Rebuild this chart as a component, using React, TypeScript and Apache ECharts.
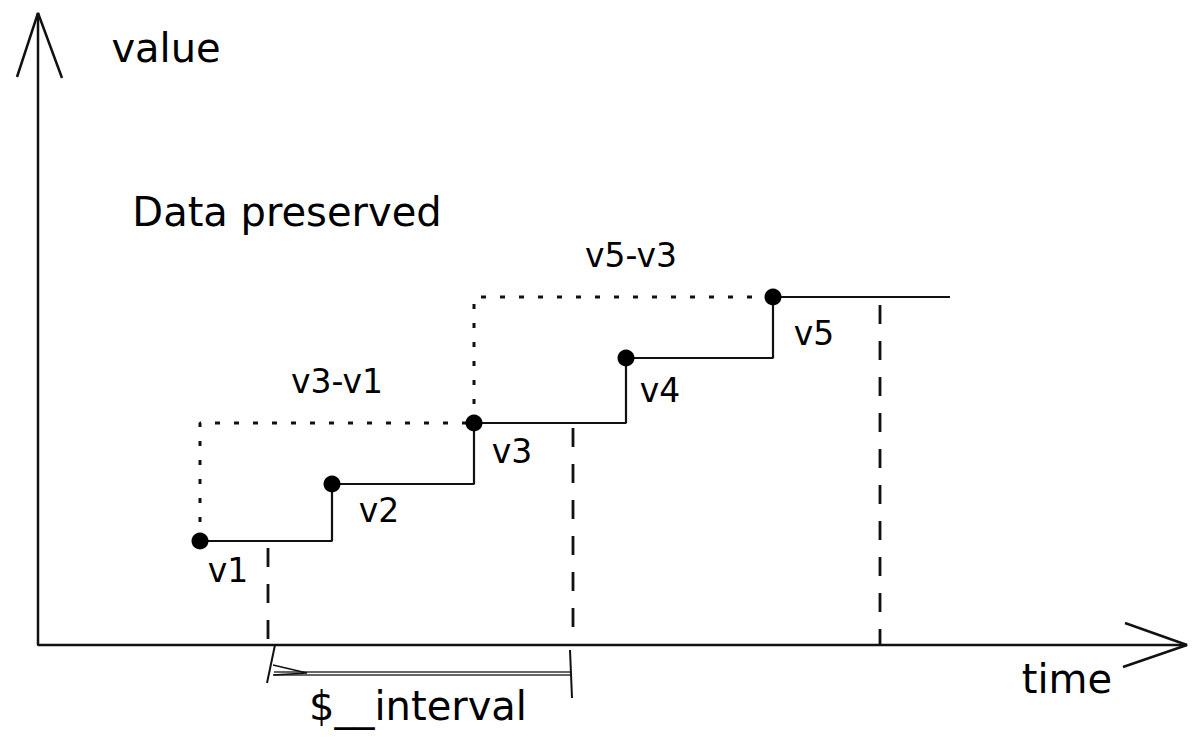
import React, { useEffect, useRef } from "react";
import * as echarts from "echarts";

// ---- data (time units / value units) ----
const pointNames = ["v1", "v2", "v3", "v4", "v5"];
const times = [16.2, 29.4, 43.6, 58.8, 73.5];
const values = [10.4, 16.1, 22.2, 28.7, 34.8];
const holdUntil = 91.2; // last value is held until here
const intervalEdges = [23.0, 53.5, 84.2];
const edgeTops = [9.7, 21.7, 34.0];
const deltaPairs = [
  [0, 2],
  [2, 4],
];
const deltaNames = ["v3-v1", "v5-v3"];
const timeAxisEnd = 114.9;
const valueAxisEnd = 63.2;

// ---- style ----
const INK = "#111111";
const FONT = "DejaVu Sans";

function lineSeries(data: any[], lineStyle: any) {
  return {
    type: "line",
    data,
    symbol: "none",
    silent: true,
    clip: false,
    lineStyle: { color: INK, width: 2, opacity: 1, ...lineStyle },
    z: 2,
  };
}

export default function App() {
  const ref = useRef<HTMLDivElement>(null);

  useEffect(() => {
    if (!ref.current) return;
    const chart = echarts.init(ref.current, undefined, { renderer: "svg" });

    const points = times.map((t, i) => [t, values[i]]);
    const series: any[] = [];

    // axes with open arrowheads
    series.push(lineSeries([[0, valueAxisEnd], [0, 0], [timeAxisEnd, 0]], { width: 2.5 }));
    series.push(lineSeries([[-2.1, 56.8], [0, valueAxisEnd], [2.4, 56.7]], { width: 2.5 }));
    series.push(lineSeries([[108.7, 2.2], [timeAxisEnd, 0], [108.5, -2.2]], { width: 2.5 }));

    // held (step) values
    series.push({
      ...lineSeries([...points, [holdUntil, values[values.length - 1]]], { width: 2.2 }),
      step: "end",
    });

    // dashed interval boundaries
    intervalEdges.forEach((e, i) => {
      series.push(lineSeries([[e, edgeTops[i]], [e, 0]], { width: 2.8, type: [19, 17] }));
    });

    // dotted deltas
    deltaPairs.forEach(([a, b]) => {
      series.push(
        lineSeries(
          [
            [times[a], values[a]],
            [times[a], values[b]],
            [times[b], values[b]],
          ],
          { width: 3, type: [5, 14] }
        )
      );
    });

    // $__interval bracket
    const l = intervalEdges[0];
    const r = intervalEdges[1];
    series.push(lineSeries([[l + 0.6, -2.7], [r - 0.3, -2.7]], { width: 1.5, color: "#333" }));
    series.push(lineSeries([[l + 0.6, -3.0], [r - 0.3, -3.0]], { width: 1.5, color: "#333" }));
    series.push(lineSeries([[l + 0.7, 0], [l - 0.1, -3.8]], { width: 2 }));
    series.push(lineSeries([[r - 0.3, -0.5], [r - 0.1, -5.3]], { width: 2 }));
    series.push(lineSeries([[l + 0.5, -2.0], [l + 3.9, -2.8], [l + 0.5, -3.0]], { width: 1.5 }));

    // points
    series.push({
      type: "scatter",
      data: points,
      symbol: "circle",
      symbolSize: 17,
      itemStyle: { color: "#000", opacity: 1 },
      silent: true,
      z: 5,
    });

    const textItem = (text: string, x: number, y: number, size: number) => ({
      type: "text",
      x,
      y,
      silent: true,
      style: {
        text,
        fill: "#000",
        font: `${size}px "${FONT}"`,
        align: "center",
        verticalAlign: "middle",
      },
    });

    const pointLabelPos = [
      [228, 570],
      [379, 510],
      [512, 451],
      [660, 390],
      [814, 333],
    ];
    const deltaLabelPos = [
      [337, 381],
      [631, 255],
    ];

    const graphics: any[] = [
      textItem("value", 166, 48, 40),
      textItem("Data preserved", 287, 212, 40),
      textItem("time", 1067, 679, 40),
      textItem("$__interval", 418, 706, 40),
      ...pointNames.map((n, i) => textItem(n, pointLabelPos[i][0], pointLabelPos[i][1], 33)),
      ...deltaNames.map((n, i) => textItem(n, deltaLabelPos[i][0], deltaLabelPos[i][1], 33)),
    ];

    chart.setOption({
      animation: false,
      backgroundColor: "#ffffff",
      grid: { left: 0, right: 0, top: 0, bottom: 0, containLabel: false },
      xAxis: { type: "value", min: -3.8, max: 116.0, show: false },
      yAxis: { type: "value", min: -9.5, max: 64.5, show: false },
      series,
      graphic: graphics,
    });

    return () => chart.dispose();
  }, []);

  return (
    <div
      ref={ref}
      style={{ position: "absolute", left: 0, top: 0, width: 1198, height: 740, background: "#fff" }}
    />
  );
}
